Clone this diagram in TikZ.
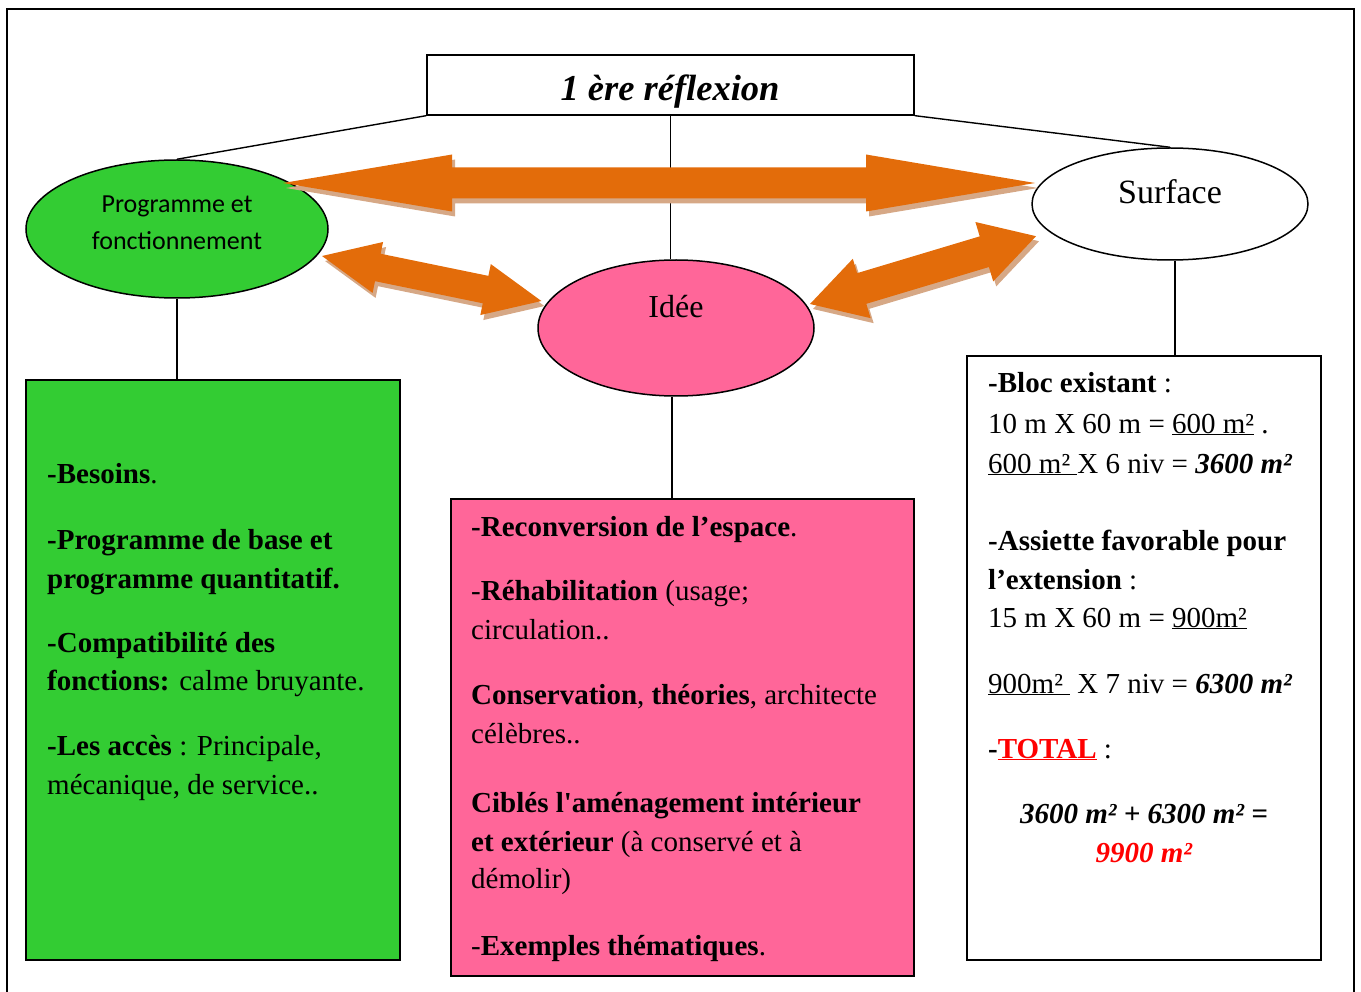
\documentclass[tikz,border=0pt]{standalone}
\usepackage{fontspec}
\setmainfont{Liberation Serif}
\newfontfamily\calib{Carlito}
\usetikzlibrary{shapes.geometric}
\definecolor{vert}{HTML}{33CC33}
\definecolor{rose}{HTML}{FF6699}
\definecolor{orng}{HTML}{E36C0A}
\definecolor{shad}{RGB}{214,168,134}
\definecolor{rouge}{HTML}{FF0000}
% #1 x, #2 y, #3 angle, #4 length, #5 shaft half, #6 head half, #7 head length
\newcommand\dblarr[7]{%
  \begin{scope}[shift={({#1+3},{#2+5})},rotate=#3]
    \fill[shad] (0,0) -- (#7,-#6) -- (#7,-#5) -- ({#4-#7},-#5) -- ({#4-#7},-#6) -- (#4,0)
      -- ({#4-#7},#6) -- ({#4-#7},#5) -- (#7,#5) -- (#7,#6) -- cycle;
  \end{scope}
  \begin{scope}[shift={(#1,#2)},rotate=#3]
    \fill[orng] (0,0) -- (#7,-#6) -- (#7,-#5) -- ({#4-#7},-#5) -- ({#4-#7},-#6) -- (#4,0)
      -- ({#4-#7},#6) -- ({#4-#7},#5) -- (#7,#5) -- (#7,#6) -- cycle;
  \end{scope}}
\tikzset{
  conn/.style={line width=1.4pt},
  ell/.style={ellipse, draw, line width=1.5pt, inner sep=0},
  boite/.style={draw, line width=1.5pt, inner sep=0},
  ln/.style={anchor=base west, inner sep=0, font=\fontsize{29}{39}\selectfont},
  lnc/.style={anchor=base, inner sep=0, font=\fontsize{29}{39}\selectfont},
}
\begin{document}
\begin{tikzpicture}[x=1pt,y=-1pt]
\useasboundingbox (0,0) rectangle (1361,992);
% outer frame
\draw[line width=1.5pt] (7,1000) -- (7,9) -- (1354,9) -- (1354,1000);
\draw[line width=2.5pt] (7,9) -- (1354,9);

% title
\node[boite, line width=1.3pt, minimum width=487, minimum height=60] (title) at (670.5,85) {};
\node[anchor=base, inner sep=0, font=\fontsize{36.5}{40}\selectfont\bfseries\itshape] (titlet) at (670,101) {1 ère réflexion};

% ellipses
\node[ell, fill=vert, minimum width=302, minimum height=138] (prog) at (177,229) {};
\node[ell, fill=white, minimum width=276, minimum height=112] (surf) at (1170,204) {};
\node[ell, fill=rose, minimum width=276, minimum height=136] (idee) at (676,328) {};

% boxes
\node[boite, fill=vert, minimum width=374, minimum height=580] (gbox) at (213,670) {};
\node[boite, fill=rose, minimum width=463, minimum height=477] (pbox) at (682.5,737.5) {};
\node[boite, fill=white, minimum width=354, minimum height=604] (wbox) at (1144,658) {};

% connectors
\draw[conn] (title.south west) -- (prog.north);
\draw[conn] (title.south east) -- (surf.north);
\draw[conn] (title.south) -- (title.south |- idee.north);
\draw[conn] (prog.south) -- (prog.south |- gbox.north);
\draw[conn] ([xshift=5pt]surf.south) -- ([xshift=5pt]surf.south |- wbox.north);
\draw[conn] ([xshift=-4pt]idee.south) -- ([xshift=-4pt]idee.south |- pbox.north);

% orange double arrows
\dblarr{283}{183}{0}{752}{15.5}{28.5}{169}
\dblarr{322}{256}{-11.6}{224}{14}{26}{57}
\dblarr{810}{304}{16.7}{236}{16}{31}{54}

% ellipse texts
\node[anchor=base, inner sep=0, font=\calib\fontsize{26}{37}\selectfont] (progt1) at (177,213) {Programme et};
\node[anchor=base, inner sep=0, font=\calib\fontsize{26}{37}\selectfont] (progt2) at (177,250) {fonctionnement};
\node[anchor=base, inner sep=0, font=\fontsize{34}{40}\selectfont] (surft) at (1170,204) {Surface};
\node[anchor=base, inner sep=0, font=\fontsize{32}{40}\selectfont] (ideet) at (676,318) {Idée};

% green box text
\node[ln] (g1) at (47,483) {\textbf{-Besoins}.};
\node[ln] (g2) at (47,549) {\textbf{-Programme de base et}};
\node[ln] (g3) at (47,588) {\textbf{programme quantitatif.}};
\node[ln] (g4) at (47,652) {\textbf{-Compatibilité des}};
\node[ln] (g5) at (47,690) {\textbf{fonctions:} calme bruyante.};
\node[ln] (g6) at (47,755) {\textbf{-Les accès} : Principale,};
\node[ln] (g7) at (47,794) {mécanique, de service..};

% pink box text
\node[ln] (p1) at (471,536) {\textbf{-Reconversion de l’espace}.};
\node[ln] (p2) at (471,600) {-\textbf{Réhabilitation} (usage;};
\node[ln] (p3) at (471,639) {circulation..};
\node[ln] (p4) at (471,704) {\textbf{Conservation}, \textbf{théories}, architecte};
\node[ln] (p5) at (471,743) {célèbres..};
\node[ln] (p6) at (471,812) {\textbf{Ciblés l\textquotesingle aménagement intérieur}};
\node[ln] (p7) at (471,851) {\textbf{et extérieur} (à conservé et à};
\node[ln] (p8) at (471,888) {démolir)};
\node[ln] (p9) at (471,955) {-\textbf{Exemples thématiques}.};

% white box text
\node[ln] (w1) at (988,393) {\textbf{-Bloc existant} :};
\node[ln] (w2) at (988,433) {10 m X 60 m = \underline{600 m²} .};
\node[ln] (w3) at (988,473) {\underline{600 m²\ }X 6 niv = \textbf{\textit{3600 m²}}};
\node[ln] (w4) at (988,550) {\textbf{-Assiette favorable pour}};
\node[ln] (w5) at (988,589) {\textbf{l’extension} :};
\node[ln] (w6) at (988,627) {15 m X 60 m = \underline{900m²}};
\node[ln] (w7) at (988,693) {\underline{900m²\ } X 7 niv = \textbf{\textit{6300 m²}}};
\node[ln] (w8) at (988,758) {\textbf{-}\textcolor{rouge}{\underline{\textbf{TOTAL}}} :};
\node[lnc] (w9) at (1144,823) {\textbf{\textit{3600 m² + 6300 m² =}}};
\node[lnc] (w10) at (1144,862) {\textcolor{rouge}{\textbf{\textit{9900 m²}}}};
\end{tikzpicture}
\end{document}
